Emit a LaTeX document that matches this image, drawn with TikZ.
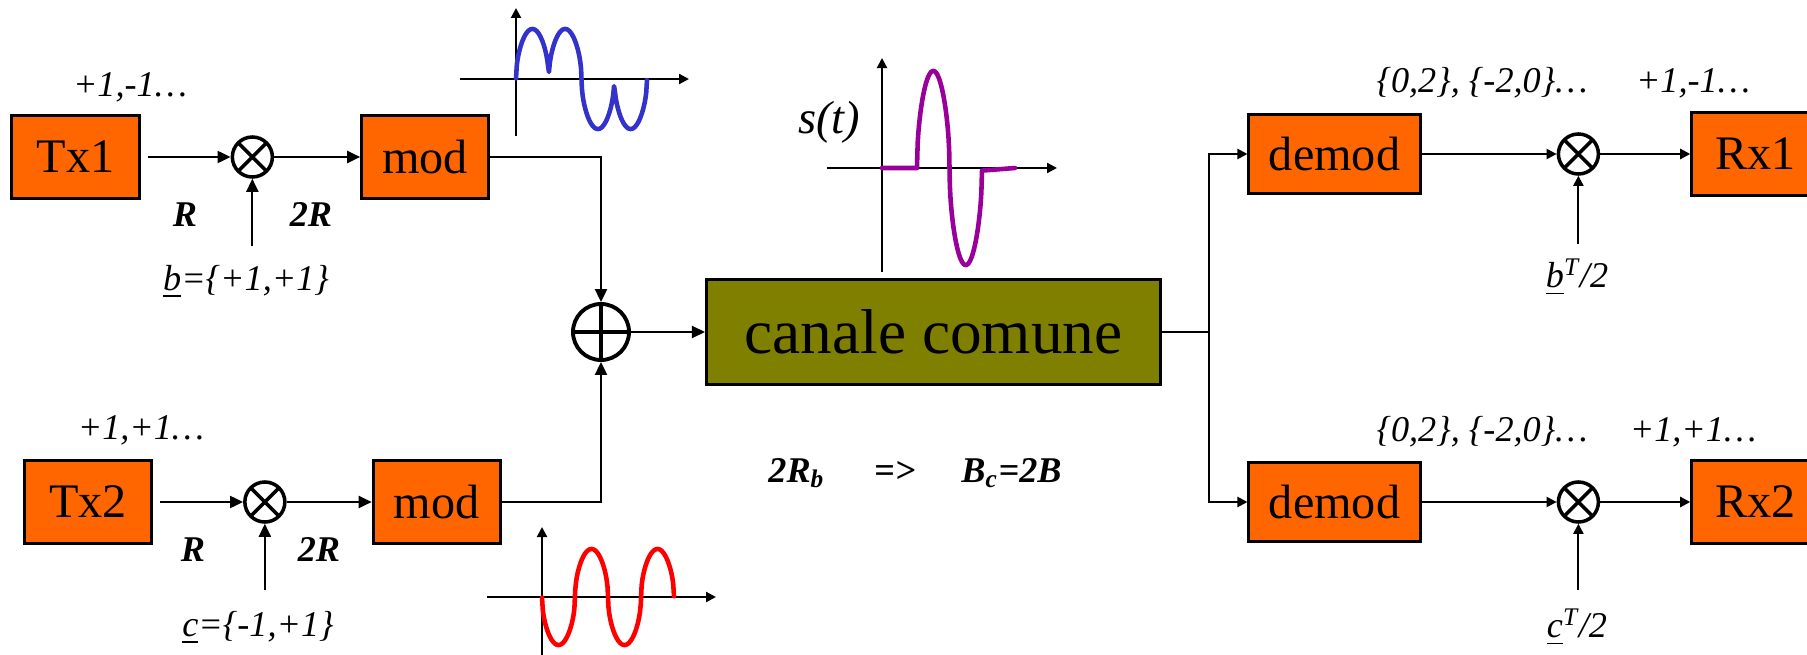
\documentclass[tikz,border=0pt]{standalone}
\usepackage{fontspec}
\setmainfont{Liberation Serif}
\usepackage{xcolor}
\usepackage{tikz}
\usetikzlibrary{arrows.meta, positioning}
\definecolor{boxorange}{RGB}{255,102,0}
\definecolor{chanolive}{RGB}{128,128,0}
\definecolor{waveblue}{RGB}{51,51,204}
\definecolor{wavepurple}{RGB}{153,0,153}
\tikzstyle{block} = [rectangle, minimum width=1.27cm, minimum height=0.82cm, text centered, draw=black, line width=0.85pt, fill=boxorange, font=\fontsize{13.7}{16}\selectfont]
\tikzstyle{channel} = [rectangle, minimum width=4.54cm, minimum height=1.04cm, text centered, draw=black, line width=0.85pt, fill=chanolive, font=\fontsize{18}{21}\selectfont]
\tikzstyle{mixer} = [circle, draw=black, line width=1pt, minimum size=0.4cm, inner sep=0pt, path picture={\draw[line width=1pt] (path picture bounding box.north west) -- (path picture bounding box.south east) (path picture bounding box.north east) -- (path picture bounding box.south west);}]
\tikzstyle{adder} = [circle, draw=black, line width=1.1pt, minimum size=0.56cm, inner sep=0pt, path picture={\draw[line width=1.1pt] (path picture bounding box.north) -- (path picture bounding box.south) (path picture bounding box.west) -- (path picture bounding box.east);}]
\tikzstyle{seq} = [font=\fontsize{10.3}{12}\selectfont\itshape]
\tikzstyle{rate} = [font=\fontsize{10.3}{12}\selectfont\bfseries\itshape]
\tikzstyle{arrow} = [line width=0.6pt, -{Triangle[length=0.13cm, width=0.12cm]}]
\tikzstyle{axis} = [line width=0.6pt, -{Triangle[length=0.1cm, width=0.1cm]}]
\tikzstyle{wave} = [line width=1.3pt, line join=round, line cap=round]

\begin{document}
\begin{tikzpicture}[x=0.01cm, y=-0.01cm, node distance=1cm]
    \useasboundingbox (0,0) rectangle (1807,655);

    % transmitters
    \node (tx1) [block] at (75.5,157) {Tx1};
    \node (mix1) [mixer, right=0.9cm of tx1] {};
    \node (mod1) [block, right=0.86cm of mix1] {mod};
    \node (tx2) [block] at (88,502) {Tx2};
    \node (mix2) [mixer, right=0.9cm of tx2] {};
    \node (mod2) [block, right=0.85cm of mix2] {mod};
    \coordinate [below=0.67cm of mix1] (bin);
    \coordinate [below=0.66cm of mix2] (cin);

    % channel
    \node (adder) [adder] at (601,332) {};
    \node (chan) [channel, right=0.74cm of adder] {canale comune};
    \coordinate [right=0.47cm of chan] (split);

    % receivers
    \node (demod1) [block, minimum width=1.71cm, minimum height=0.79cm] at (1334.5,154) {demod};
    \node (mix3) [mixer, right=1.35cm of demod1] {};
    \node (rx1) [block, right=0.9cm of mix3] {Rx1};
    \node (demod2) [block, minimum width=1.71cm, minimum height=0.79cm] at (1334.5,502) {demod};
    \node (mix4) [mixer, right=1.35cm of demod2] {};
    \node (rx2) [block, right=0.9cm of mix4] {Rx2};
    \coordinate [below=0.68cm of mix3] (bTin);
    \coordinate [below=0.66cm of mix4] (cTin);

    % labels
    \node (seq1) [seq] at (130,87) {+1,-1\ldots};
    \node (seq2) [seq] at (141,430) {+1,+1\ldots};
    \node (r1) [rate] at (185,215) {R};
    \node (r2) [rate] at (311,215) {2R};
    \node (r3) [rate] at (193,550) {R};
    \node (r4) [rate] at (319,550) {2R};
    \node (bcode) [seq] at (246,282) {\underline{b}=\{+1,+1\}};
    \node (ccode) [seq] at (258,628) {\underline{c}=\{-1,+1\}};
    \node (dec1) [seq] at (1482,83) {\{0,2\}, \{-2,0\}\ldots};
    \node (dec2) [seq] at (1482,432) {\{0,2\}, \{-2,0\}\ldots};
    \node (out1) [seq] at (1693,83) {+1,-1\ldots};
    \node (out2) [seq] at (1693,432) {+1,+1\ldots};
    \node (bT) [seq] at (1577,277) {\underline{b}\textsuperscript{T}/2};
    \node (cT) [seq] at (1577,627) {\underline{c}\textsuperscript{T}/2};
    \node (st) [seq, font=\fontsize{13.2}{15}\selectfont\itshape] at (829,122) {s(t)};
    \node (band) [rate, anchor=west] at (756,473) {2R\textsubscript{b}\hspace{0.49cm}=>\hspace{0.46cm}B\textsubscript{c}=2B};

    % connections
    \draw [arrow, shorten <=0.07cm] (tx1) -- (mix1);
    \draw [arrow] (mix1) -- (mod1);
    \draw [arrow] (bin) -- (mix1);
    \draw [arrow, shorten <=0.07cm] (tx2) -- (mix2);
    \draw [arrow] (mix2) -- (mod2);
    \draw [arrow] (cin) -- (mix2);
    \draw [arrow] (mod1.east) -| (adder);
    \draw [arrow] (mod2.east) -| (adder);
    \draw [arrow] (adder) -- (chan);
    \draw [line width=0.6pt] (chan.east) -- (split);
    \draw [axis] (split) |- (demod1);
    \draw [axis] (split) |- (demod2);
    \draw [axis] (demod1) -- (mix3);
    \draw [axis] (mix3) -- (rx1);
    \draw [axis] (bTin) -- (mix3);
    \draw [axis] (demod2) -- (mix4);
    \draw [axis] (mix4) -- (rx2);
    \draw [axis] (cTin) -- (mix4);

    % waveforms
    \draw [axis] (460,79) -- (689,79);
    \draw [axis] (516,136) -- (516,8);
    \draw [wave, waveblue] plot [domain=0:131, samples=160] ({516+\x}, {79-50*(\x<65.5?1:-1)*pow(abs(sin(\x*5.496))+0.0001,0.5)});
    \draw [axis] (487,597) -- (716,597);
    \draw [axis] (542,660) -- (542,527);
    \draw [wave, red] plot [domain=0:132, samples=160] ({542+\x}, {597+48*(sin(\x*5.4545)>=0?1:-1)*pow(abs(sin(\x*5.4545))+0.0001,0.5)});
    \draw [axis] (827,168) -- (1057,168);
    \draw [axis] (882,272) -- (882,58);
    \draw [wave, wavepurple] (882,168) -- (917,168) -- plot [domain=0:65, samples=100] ({917+\x}, {168-97*(\x<32.5?1:-1)*pow(abs(sin(\x*5.538))+0.0001,0.5)}) -- (1015,168);
\end{tikzpicture}
\end{document}
